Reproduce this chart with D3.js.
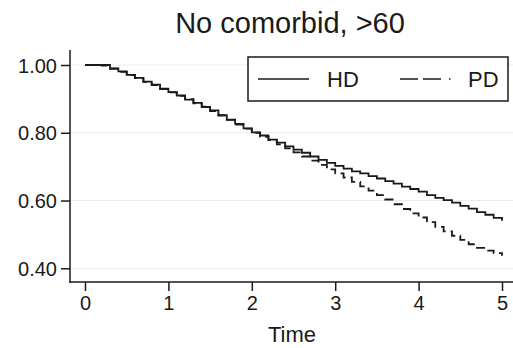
<!DOCTYPE html>
<html>
<head>
<meta charset="utf-8">
<script src="https://cdn.jsdelivr.net/npm/d3@7"></script>
<style>
  html, body { margin: 0; padding: 0; background: #fff; }
  svg { display: block; font-family: "Liberation Sans", Arial, Helvetica, sans-serif; }
</style>
</head>
<body>
<svg id="chart" width="513" height="348"></svg>
<script>
const title = "No comorbid, >60";
const xLabel = "Time";
const times = [0.0,0.1,0.2,0.3,0.4,0.5,0.6,0.7,0.8,0.9,1.0,1.1,1.2,1.3,1.4,1.5,1.6,1.7,1.8,1.9,2.0,2.1,2.2,2.3,2.4,2.5,2.6,2.7,2.8,2.9,3.0,3.1,3.2,3.3,3.4,3.5,3.6,3.7,3.8,3.9,4.0,4.1,4.2,4.3,4.4,4.5,4.6,4.7,4.8,4.9,5.0];
const hdSurv = [1.000,1.000,1.000,0.990,0.981,0.971,0.962,0.951,0.942,0.930,0.920,0.910,0.898,0.888,0.876,0.866,0.852,0.838,0.826,0.813,0.801,0.792,0.780,0.771,0.760,0.750,0.741,0.730,0.720,0.711,0.702,0.694,0.686,0.680,0.672,0.665,0.657,0.650,0.641,0.634,0.626,0.616,0.608,0.601,0.594,0.584,0.576,0.566,0.558,0.549,0.540];
const pdSurv = [1.000,1.000,0.998,0.989,0.980,0.970,0.961,0.950,0.941,0.929,0.919,0.909,0.899,0.887,0.877,0.864,0.851,0.839,0.824,0.812,0.800,0.788,0.778,0.766,0.754,0.742,0.730,0.718,0.705,0.692,0.680,0.668,0.655,0.642,0.629,0.616,0.603,0.589,0.575,0.562,0.550,0.536,0.522,0.509,0.496,0.484,0.471,0.460,0.452,0.445,0.437];
const xTicks = [0,1,2,3,4,5];
const yTicks = [0.40,0.60,0.80,1.00];
const seriesNames = ["HD","PD"];

(function () {
const svg = d3.select("#chart");
const ink = "#1a1a1a";

const x = d3.scaleLinear().domain([0,5]).range([85,502]);
const y = d3.scaleLinear().domain([0.4,1.0]).range([268.3,65]);
const pLeft = 70, pRight = 513, pTop = 50, pBottom = 282;

// gridlines
svg.append("g").selectAll("line").data(yTicks).join("line")
  .attr("x1", pLeft).attr("x2", pRight)
  .attr("y1", d => y(d)).attr("y2", d => y(d))
  .attr("stroke", "#ececec").attr("stroke-width", 1);

// y axis
const yAxis = d3.axisLeft(y).tickValues(yTicks).tickFormat(d3.format(".2f")).tickSize(9).tickPadding(4);
const gy = svg.append("g").attr("transform", `translate(${pLeft},0)`).call(yAxis);
gy.select(".domain").remove();
gy.append("line").attr("x1",0).attr("x2",0).attr("y1",pTop).attr("y2",pBottom+0.75)
  .attr("stroke", ink).attr("stroke-width",1.5);
gy.selectAll(".tick line").attr("stroke", ink).attr("stroke-width",1.5);
gy.selectAll(".tick text").attr("fill", ink).attr("font-size", 20)
  .attr("font-family", "Liberation Sans, Arial, sans-serif").attr("dy","0.36em");

// x axis
const xAxis = d3.axisBottom(x).tickValues(xTicks).tickFormat(d3.format("d")).tickSize(9).tickPadding(5);
const gx = svg.append("g").attr("transform", `translate(0,${pBottom})`).call(xAxis);
gx.select(".domain").remove();
gx.append("line").attr("x1",pLeft-0.75).attr("x2",pRight).attr("y1",0).attr("y2",0)
  .attr("stroke", ink).attr("stroke-width",1.5);
gx.selectAll(".tick line").attr("stroke", ink).attr("stroke-width",1.5);
gx.selectAll(".tick text").attr("fill", ink).attr("font-size", 20)
  .attr("font-family", "Liberation Sans, Arial, sans-serif");

// curves
const line = d3.line().curve(d3.curveStepAfter).x(d => x(d[0])).y(d => y(d[1]));
svg.append("path").datum(times.map((t,i)=>[t,hdSurv[i]]))
  .attr("d", line).attr("fill","none").attr("stroke", ink).attr("stroke-width",1.8);
svg.append("path").datum(times.map((t,i)=>[t,pdSurv[i]]))
  .attr("d", line).attr("fill","none").attr("stroke", ink).attr("stroke-width",1.8)
  .attr("stroke-dasharray","9,5");

// title
svg.append("text").attr("x", 290).attr("y", 33).attr("text-anchor","middle")
  .attr("font-size", 29).attr("fill", ink).text(title);

// x label
svg.append("text").attr("x", 292).attr("y", 342).attr("text-anchor","middle")
  .attr("font-size", 22).attr("fill", ink).text(xLabel);

// legend
const lg = svg.append("g");
lg.append("rect").attr("x",248).attr("y",57).attr("width",260).attr("height",44)
  .attr("fill","#fff").attr("stroke", ink).attr("stroke-width",1.5);
lg.append("line").attr("x1",258).attr("x2",309).attr("y1",79).attr("y2",79)
  .attr("stroke", ink).attr("stroke-width",1.5);
lg.append("text").attr("x",327).attr("y",87).attr("font-size",22).attr("fill",ink).text(seriesNames[0]);
lg.append("line").attr("x1",400).attr("x2",451).attr("y1",79).attr("y2",79)
  .attr("stroke", ink).attr("stroke-width",1.5).attr("stroke-dasharray","18,5,18,8,1.5,100");
lg.append("text").attr("x",468).attr("y",87).attr("font-size",22).attr("fill",ink).text(seriesNames[1]);
})();
</script>
</body>
</html>
